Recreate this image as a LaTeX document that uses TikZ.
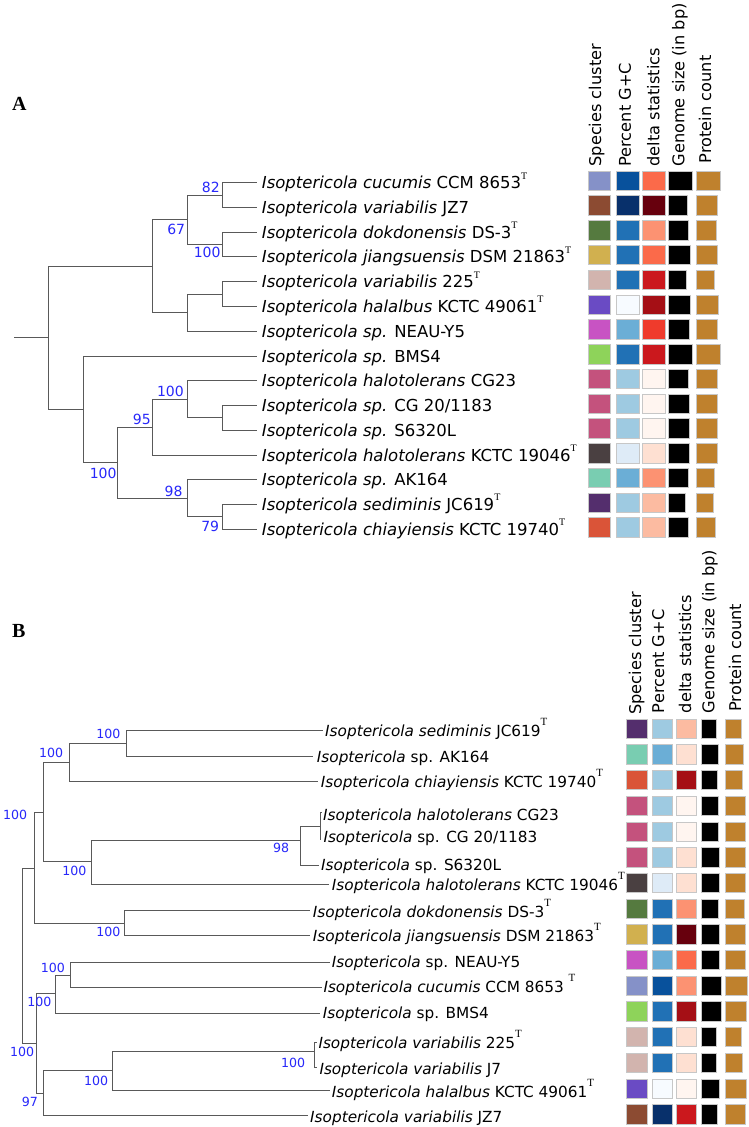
\documentclass[tikz,border=0pt]{standalone}
\usepackage{fontspec}
\usetikzlibrary{positioning}
\newfontfamily\dvs{DejaVu Sans}
\newfontfamily\libser{Liberation Serif}
\newcommand{\typeT}[2]{\raisebox{#1}{\libser\fontsize{#2}{#2}\selectfont T}}
\newcommand{\supA}{\typeT{9.7pt}{10}}
\newcommand{\supB}{\typeT{11pt}{11}}
% species cluster colours
\definecolor{clPeri}{HTML}{8591C8}
\definecolor{clBrown}{HTML}{8C4B32}
\definecolor{clOlive}{HTML}{557A3F}
\definecolor{clMustard}{HTML}{D1B04F}
\definecolor{clRose}{HTML}{D2B4AE}
\definecolor{clViolet}{HTML}{6A4BC4}
\definecolor{clOrchid}{HTML}{C853C3}
\definecolor{clLime}{HTML}{8ED35A}
\definecolor{clPink}{HTML}{C4527D}
\definecolor{clCharcoal}{HTML}{4A4041}
\definecolor{clMint}{HTML}{79CDB1}
\definecolor{clPlum}{HTML}{542E6D}
\definecolor{clVermil}{HTML}{DA5438}
% G+C scale
\definecolor{gc1}{HTML}{F7FBFF}
\definecolor{gc2}{HTML}{DEEBF7}
\definecolor{gc3}{HTML}{9ECAE1}
\definecolor{gc4}{HTML}{6BAED6}
\definecolor{gc5}{HTML}{2171B5}
\definecolor{gc6}{HTML}{08519C}
\definecolor{gc7}{HTML}{08306B}
% delta scale
\definecolor{dl1}{HTML}{FFF5F0}
\definecolor{dl2}{HTML}{FEE0D2}
\definecolor{dl3}{HTML}{FCBBA1}
\definecolor{dl4}{HTML}{FC9272}
\definecolor{dl5}{HTML}{FB6A4A}
\definecolor{dl6}{HTML}{EF3B2C}
\definecolor{dl7}{HTML}{CB181D}
\definecolor{dl8}{HTML}{A50F15}
\definecolor{dl9}{HTML}{67000D}
\definecolor{protein}{HTML}{BF812D}
\definecolor{supblue}{RGB}{40,40,250}
\tikzset{
	branch/.style={draw=black!65, line width=1pt},
	taxonA/.style={anchor=base west, inner sep=0pt, font=\dvs\fontsize{16.5}{18}\selectfont},
	taxonB/.style={anchor=base west, inner sep=0pt, font=\dvs\fontsize{15.3}{17}\selectfont},
	supportA/.style={anchor=east, inner sep=0pt, text=supblue, font=\dvs\fontsize{14}{16}\selectfont},
	supportB/.style={anchor=east, inner sep=0pt, text=supblue, font=\dvs\fontsize{12.6}{14}\selectfont},
	colhead/.style={rotate=90, anchor=west, inner sep=0pt, font=\dvs\fontsize{16.2}{18}\selectfont},
	cell/.style={draw=black!22, line width=0.6pt},
	panel/.style={anchor=base west, inner sep=0pt, font=\libser\bfseries\fontsize{20}{20}\selectfont}
}
\begin{document}
\begin{tikzpicture}[x=1pt,y=-1pt]
	\fill[white] (0,0) rectangle (749,1127);
	\useasboundingbox (0,0) rectangle (749,1127);

	% ---------- panel A ----------
	\node[panel] (panA) at (12,110) {A};
	\foreach \r in {0,...,14}
		\coordinate (la\r) at (257,{182.7+24.76*\r});
	\coordinate (stubA) at (14,337.84);
	\coordinate (rootA) at (48.3,337.84);
	\coordinate (uA) at (152.7,266.27);
	\coordinate (u1) at (187.7,219.84);
	\coordinate (u11) at (222.3,195.08);
	\coordinate (u12) at (222.3,244.6);
	\coordinate (u2) at (187.7,312.69);
	\coordinate (u21) at (222.3,294.12);
	\coordinate (lA) at (83,409.41);
	\coordinate (l2) at (117.7,462.8);
	\coordinate (l21) at (152.7,427.2);
	\coordinate (l211) at (187.7,399.35);
	\coordinate (l2111) at (222.3,417.92);
	\coordinate (l22) at (187.7,498.39);
	\coordinate (l221) at (222.3,516.96);
	\draw[branch] (stubA) -- (rootA);
	\foreach \p/\c in {rootA/uA, rootA/lA, uA/u1, uA/u2, u1/u11, u1/u12,
			u11/la0, u11/la1, u12/la2, u12/la3, u2/u21, u2/la6, u21/la4, u21/la5,
			lA/la7, lA/l2, l2/l21, l2/l22, l21/l211, l21/la11, l211/la8, l211/l2111,
			l2111/la9, l2111/la10, l22/la12, l22/l221, l221/la13, l221/la14}
		\draw[branch] (\p) |- (\c);
	% support values
	\node[supportA] (sa82) at (220,187.3) {82};
	\node[supportA] (sa67) at (185.3,229.3) {67};
	\node[supportA] (sa100a) at (220.7,252.7) {100};
	\node[supportA] (sa100b) at (184,391.7) {100};
	\node[supportA] (sa95) at (151,419.3) {95};
	\node[supportA] (sa100c) at (116.7,473.3) {100};
	\node[supportA] (sa98) at (182.7,491.7) {98};
	\node[supportA] (sa79) at (219.3,526) {79};
	% taxa
	\foreach \r/\txt in {
			0/{\textit{Isoptericola cucumis} CCM 8653\supA},
			1/{\textit{Isoptericola variabilis} JZ7},
			2/{\textit{Isoptericola dokdonensis} DS-3\supA},
			3/{\textit{Isoptericola jiangsuensis} DSM 21863\supA},
			4/{\textit{Isoptericola variabilis} 225\supA},
			5/{\textit{Isoptericola halalbus} KCTC 49061\supA},
			6/{\textit{Isoptericola sp.} NEAU-Y5},
			7/{\textit{Isoptericola sp.} BMS4},
			8/{\textit{Isoptericola halotolerans} CG23},
			9/{\textit{Isoptericola sp.} CG 20/1183},
			10/{\textit{Isoptericola sp.} S6320L},
			11/{\textit{Isoptericola halotolerans} KCTC 19046\supA},
			12/{\textit{Isoptericola sp.} AK164},
			13/{\textit{Isoptericola sediminis} JC619\supA},
			14/{\textit{Isoptericola chiayiensis} KCTC 19740\supA}}
		\node[taxonA] (ta\r) at (261.7,{188.7+24.76*\r}) {\txt};
	% column heads
	\node[colhead] (haC) at (596.7,166.7) {Species cluster};
	\node[colhead] (haG) at (625,166.7) {Percent G+C};
	\node[colhead] (haD) at (653.3,166.7) {delta statistics};
	\node[colhead] (haS) at (680,166.7) {Genome size (in bp)};
	\node[colhead] (haP) at (705,163.3) {Protein count};
	% data cells
	\foreach \r/\cc/\gc/\dc/\gw/\pw in {0/clPeri/gc6/dl5/23.3/23.7, 1/clBrown/gc7/dl9/18.7/20.7,
			2/clOlive/gc5/dl4/19.7/20.3, 3/clMustard/gc5/dl5/21.3/20.7, 4/clRose/gc5/dl7/17.7/17.7,
			5/clViolet/gc1/dl8/21.7/22.3, 6/clOrchid/gc4/dl6/20.7/20.7, 7/clLime/gc5/dl7/23.3/23.7,
			8/clPink/gc3/dl1/20/20.7, 9/clPink/gc3/dl1/20.7/20.7, 10/clPink/gc3/dl1/20.7/20.7,
			11/clCharcoal/gc2/dl2/20.7/21.3, 12/clMint/gc4/dl4/19.3/18.3, 13/clPlum/gc3/dl3/17/17.3,
			14/clVermil/gc3/dl3/19.3/19.3}{
		\pgfmathsetmacro\ytop{171+24.76*\r}
		\filldraw[cell, fill=\cc] (588,\ytop) rectangle ++(22.5,19.5);
		\filldraw[cell, fill=\gc] (616.5,\ytop) rectangle ++(22.5,19.5);
		\filldraw[cell, fill=\dc] (642.7,\ytop) rectangle ++(22.3,19.5);
		\filldraw[cell, fill=black] (668.7,\ytop) rectangle ++(\gw,19.5);
		\filldraw[cell, fill=protein] (696.3,\ytop) rectangle ++(\pw,19.5);
	}

	% ---------- panel B ----------
	\node[panel] (panB) at (12,637) {B};
	\foreach \r/\x/\y in {0/322.7/730.3, 1/313.3/756.3, 2/317.5/781.3, 3/321.7/812.3,
			4/320.5/839.5, 5/318.5/865, 6/329.3/884, 7/310/910, 8/310/935.7, 9/330/962,
			10/321.7/987.3, 11/320/1013, 12/316.5/1042, 13/316.5/1067.5, 14/330/1090, 15/308.3/1115.7}
		\coordinate (lb\r) at (\x,\y);
	\coordinate (rootB) at (22.3,955.8);
	\coordinate (v1) at (34.3,868.3);
	\coordinate (v11) at (43,812.3);
	\coordinate (v111) at (69.7,762.7);
	\coordinate (v1111) at (126,743.3);
	\coordinate (v112) at (91,861.7);
	\coordinate (v1121) at (300,840);
	\coordinate (vcg) at (320,826.7);
	\coordinate (v12) at (124.3,923.3);
	\coordinate (w2) at (36.7,1043.3);
	\coordinate (w21) at (55,993.3);
	\coordinate (w211) at (70.3,975);
	\coordinate (w22) at (43.3,1093.3);
	\coordinate (w221) at (112.7,1070.7);
	\coordinate (wvar) at (314.5,1051);
	\foreach \p/\c in {rootB/v1, rootB/w2, v1/v11, v1/v12, v11/v111, v11/v112,
			v111/v1111, v111/lb2, v1111/lb0, v1111/lb1, v112/v1121, v112/lb6,
			v1121/vcg, v1121/lb5, vcg/lb3, vcg/lb4, v12/lb7, v12/lb8,
			w2/w21, w2/w22, w21/w211, w21/lb11, w211/lb9, w211/lb10,
			w22/w221, w22/lb15, w221/wvar, w221/lb14, wvar/lb12, wvar/lb13}
		\draw[branch] (\p) |- (\c);
	% support values
	\node[supportB] (sb1) at (120.7,734) {100};
	\node[supportB] (sb2) at (63.3,752.7) {100};
	\node[supportB] (sb3) at (27.3,815) {100};
	\node[supportB] (sb4) at (289.3,848.3) {98};
	\node[supportB] (sb5) at (86.7,871) {100};
	\node[supportB] (sb6) at (120.7,931.7) {100};
	\node[supportB] (sb7) at (65,967.7) {100};
	\node[supportB] (sb8) at (51.7,1002.3) {100};
	\node[supportB] (sb9) at (34.3,1052.3) {100};
	\node[supportB] (sb10) at (305.3,1063.3) {100};
	\node[supportB] (sb11) at (108.3,1081) {100};
	\node[supportB] (sb12) at (38,1102.3) {97};
	% taxa
	\foreach \r/\x/\y/\txt in {
			0/325/731/{\textit{Isoptericola sediminis} JC619\supB},
			1/316.7/756.5/{\textit{Isoptericola} sp. AK164},
			2/320.7/782/{\textit{Isoptericola chiayiensis} KCTC 19740\supB},
			3/323/815/{\textit{Isoptericola halotolerans} CG23},
			4/323.3/836.7/{\textit{Isoptericola} sp. CG 20/1183},
			5/321/864.5/{\textit{Isoptericola} sp. S6320L},
			6/331.7/884.5/{\textit{Isoptericola halotolerans} KCTC 19046\supB},
			7/312.7/911.5/{\textit{Isoptericola dokdonensis} DS-3\supB},
			8/312.7/935.5/{\textit{Isoptericola jiangsuensis} DSM 21863\supB},
			9/331.7/962/{\textit{Isoptericola} sp. NEAU-Y5},
			10/323.3/987/{\textit{Isoptericola cucumis} CCM 8653 \supB},
			11/322.7/1013/{\textit{Isoptericola} sp. BMS4},
			12/318.3/1043/{\textit{Isoptericola variabilis} 225\supB},
			13/319.3/1069/{\textit{Isoptericola variabilis} J7},
			14/331.7/1092/{\textit{Isoptericola halalbus} KCTC 49061\supB},
			15/310/1116.5/{\textit{Isoptericola variabilis} JZ7}}
		\node[taxonB] (tb\r) at (\x,{\y+5.6}) {\txt};
	% column heads
	\node[colhead] (hbC) at (636.7,715) {Species cluster};
	\node[colhead] (hbG) at (658.3,713.3) {Percent G+C};
	\node[colhead] (hbD) at (685,713.3) {delta statistics};
	\node[colhead] (hbS) at (710,713.3) {Genome size (in bp)};
	\node[colhead] (hbP) at (735,711.7) {Protein count};
	% data cells
	\foreach \r/\cc/\gc/\dc/\gw/\pw in {0/clPlum/gc3/dl3/15/16, 1/clMint/gc4/dl2/17.7/17.7,
			2/clVermil/gc3/dl8/16.7/17, 3/clPink/gc3/dl1/17.7/19.3, 4/clPink/gc3/dl1/17.7/19.3,
			5/clPink/gc3/dl2/18.3/19.3, 6/clCharcoal/gc2/dl2/18.3/19.7, 7/clOlive/gc5/dl4/17.3/18.3,
			8/clMustard/gc5/dl9/18.7/19.7, 9/clOrchid/gc4/dl5/18.3/19.7, 10/clPeri/gc6/dl4/20.7/21.7,
			11/clLime/gc5/dl8/20/21, 12/clRose/gc5/dl2/15.7/16, 13/clRose/gc5/dl2/15.7/17,
			14/clViolet/gc1/dl1/18.3/20.3, 15/clBrown/gc7/dl7/16.3/19.7}{
		\pgfmathsetmacro\ytop{719+25.7*\r}
		\filldraw[cell, fill=\cc] (626,\ytop) rectangle ++(21,19.3);
		\filldraw[cell, fill=\gc] (652.3,\ytop) rectangle ++(20.4,19.3);
		\filldraw[cell, fill=\dc] (676.3,\ytop) rectangle ++(20.4,19.3);
		\filldraw[cell, fill=black] (701,\ytop) rectangle ++(\gw,19.3);
		\filldraw[cell, fill=protein] (725.7,\ytop) rectangle ++(\pw,19.3);
	}
\end{tikzpicture}
\end{document}
